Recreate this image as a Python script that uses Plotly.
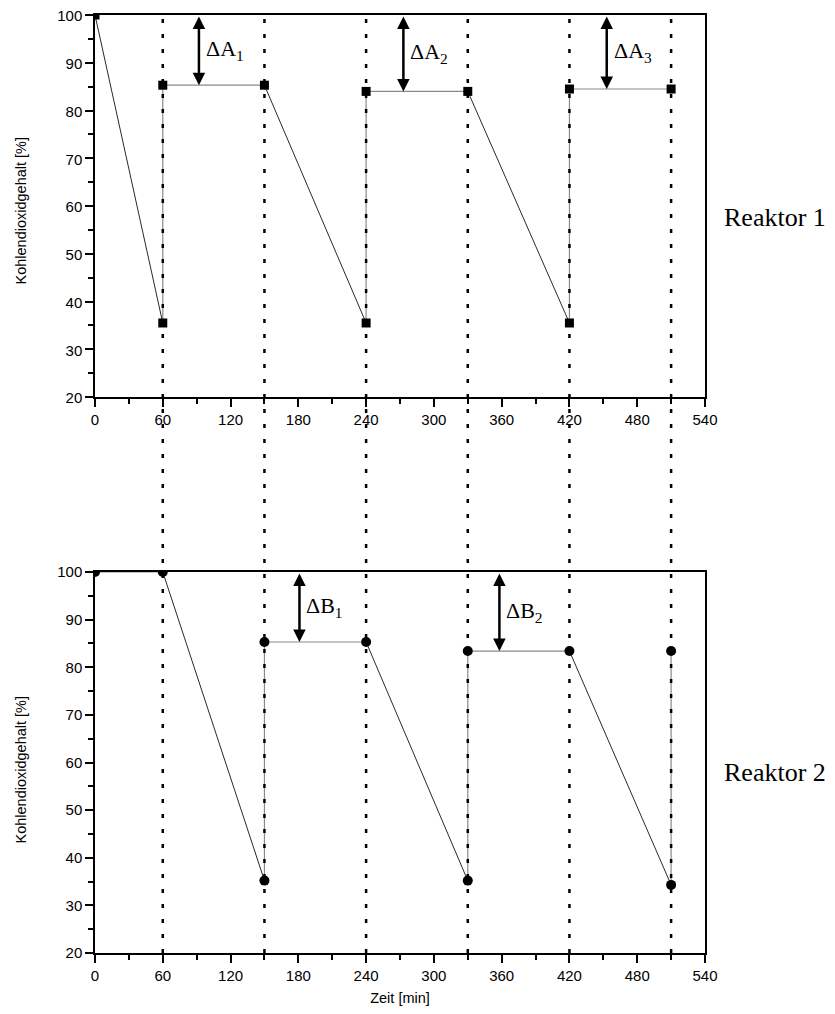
import plotly.graph_objects as go

# ---------------- data ----------------
time_r1 = [0, 60, 60, 150, 240, 240, 330, 420, 420, 510]
co2_r1 = [100, 35.5, 85.3, 85.3, 35.5, 84.0, 84.0, 35.5, 84.5, 84.5]

time_r2 = [0, 60, 150, 150, 240, 330, 330, 420, 510, 510]
co2_r2 = [100, 100, 35.2, 85.3, 85.3, 35.2, 83.4, 83.4, 34.3, 83.4]

phase_bounds = [60, 150, 240, 330, 420, 510]

x_ticks = [0, 60, 120, 180, 240, 300, 360, 420, 480, 540]
y_ticks = [20, 30, 40, 50, 60, 70, 80, 90, 100]

delta_r1_x = [92, 273, 453]
delta_r1_level = [85.3, 84.0, 84.5]
delta_r1_labels = ["ΔA<sub>1</sub>", "ΔA<sub>2</sub>", "ΔA<sub>3</sub>"]

delta_r2_x = [181, 358]
delta_r2_level = [85.3, 83.4]
delta_r2_labels = ["ΔB<sub>1</sub>", "ΔB<sub>2</sub>"]

reactor_names = ["Reaktor 1", "Reaktor 2"]
y_title = "Kohlendioxidgehalt [%]"
x_title = "Zeit [min]"

# ---------------- layout constants ----------------
OFF = 8                      # default page body margin
W, H = 835 - 2 * OFF, 1014 - 2 * OFF


def px_x(p):
    return (p - OFF) / W


def px_y(p):
    return 1 - (p - OFF) / H


X_DOM = [px_x(95), px_x(705)]
TOP_DOM = [px_y(397), px_y(15)]
BOT_DOM = [px_y(953), px_y(572)]
SANS = "Liberation Sans, Arial, sans-serif"
SERIF = "Liberation Serif, Times New Roman, serif"


def split_segments(xs, ys):
    """Split consecutive point pairs into falling (black) and other (grey) segments."""
    fall_x, fall_y, other_x, other_y = [], [], [], []
    for i in range(len(xs) - 1):
        if ys[i + 1] < ys[i]:
            fall_x += [xs[i], xs[i + 1], None]
            fall_y += [ys[i], ys[i + 1], None]
        else:
            other_x += [xs[i], xs[i + 1], None]
            other_y += [ys[i], ys[i + 1], None]
    return fall_x, fall_y, other_x, other_y


fig = go.Figure()

for xs, ys, xa, ya, sym in [
    (time_r1, co2_r1, "x", "y", "square"),
    (time_r2, co2_r2, "x2", "y2", "circle"),
]:
    fx, fy, ox, oy = split_segments(xs, ys)
    fig.add_trace(go.Scatter(x=ox, y=oy, mode="lines", xaxis=xa, yaxis=ya,
                             line=dict(color="#8a8a8a", width=1.2),
                             showlegend=False, hoverinfo="skip"))
    fig.add_trace(go.Scatter(x=fx, y=fy, mode="lines", xaxis=xa, yaxis=ya,
                             line=dict(color="#111111", width=0.9),
                             showlegend=False, hoverinfo="skip"))
    fig.add_trace(go.Scatter(x=xs, y=ys, mode="markers", xaxis=xa, yaxis=ya,
                             marker=dict(symbol=sym, size=10 if sym == "circle" else 9,
                                         color="black", line=dict(width=0)),
                             showlegend=False))

# dotted phase boundaries spanning both panels
shapes = []
for b in phase_bounds:
    shapes.append(dict(type="line", xref="x", yref="paper", x0=b, x1=b,
                       y0=BOT_DOM[0], y1=TOP_DOM[1],
                       line=dict(color="black", width=2.5, dash="4px,11px"),
                       layer="above"))

annotations = []


def add_deltas(xs, levels, labels, xref, yref):
    for xv, lv, lab in zip(xs, levels, labels):
        annotations.append(dict(x=xv, y=lv, ax=xv, ay=100, xref=xref, yref=yref,
                                axref=xref, ayref=yref, text="", showarrow=True,
                                arrowhead=2, startarrowhead=2, arrowside="end+start",
                                arrowwidth=2.5, arrowsize=1, startarrowsize=1,
                                arrowcolor="black", standoff=0, startstandoff=0))
        annotations.append(dict(x=xv, y=(100 + lv) / 2, xref=xref, yref=yref,
                                text=lab, showarrow=False, xanchor="left",
                                yanchor="middle", xshift=5,
                                font=dict(family=SERIF, size=22, color="black")))


add_deltas(delta_r1_x, delta_r1_level, delta_r1_labels, "x", "y")
add_deltas(delta_r2_x, delta_r2_level, delta_r2_labels, "x2", "y2")

for name, ypix in zip(reactor_names, [217, 772]):
    annotations.append(dict(x=px_x(722), y=px_y(ypix), xref="paper", yref="paper",
                            text=name, showarrow=False, xanchor="left",
                            yanchor="middle",
                            font=dict(family=SERIF, size=26, color="black")))

# y-axis titles (rotated)
for ypix in [211, 770]:
    annotations.append(dict(x=px_x(20.5), y=px_y(ypix), xref="paper", yref="paper",
                            text=y_title, showarrow=False, textangle=-90,
                            xanchor="center", yanchor="middle",
                            font=dict(family=SANS, size=14.5, color="black")))

x_common = dict(range=[0, 540], tickvals=x_ticks, ticks="outside", ticklen=8,
                tickwidth=1.5, tickcolor="black", showline=True, linecolor="black",
                linewidth=1.5, mirror=True, showgrid=False, zeroline=False,
                domain=X_DOM, automargin=False, ticklabeloverflow="allow",
                tickfont=dict(family=SANS, size=15, color="black"),
                minor=dict(dtick=30, tick0=0, ticks="outside", ticklen=5,
                           tickwidth=1.5, tickcolor="black", showgrid=False))
y_common = dict(range=[20, 100], tickvals=y_ticks, ticks="outside", ticklen=8,
                tickwidth=1.5, tickcolor="black", showline=True, linecolor="black",
                linewidth=1.5, mirror=True, showgrid=False, zeroline=False,
                automargin=False, ticklabeloverflow="allow",
                tickfont=dict(family=SANS, size=15, color="black"),
                minor=dict(dtick=5, tick0=0, ticks="outside", ticklen=5,
                           tickwidth=1.5, tickcolor="black", showgrid=False))

fig.update_layout(
    width=W, height=H,
    margin=dict(l=0, r=0, t=0, b=0),
    paper_bgcolor="white", plot_bgcolor="white",
    showlegend=False,
    xaxis=dict(**x_common, anchor="y"),
    yaxis=dict(**y_common, domain=TOP_DOM, anchor="x", ticklabelshift=1),
    xaxis2=dict(**x_common, anchor="y2",
                title=dict(text=x_title, font=dict(family=SANS, size=14.5, color="black"),
                           standoff=12)),
    yaxis2=dict(**y_common, domain=BOT_DOM, anchor="x2"),
    shapes=shapes,
    annotations=annotations,
)

fig.write_html("out.html")
